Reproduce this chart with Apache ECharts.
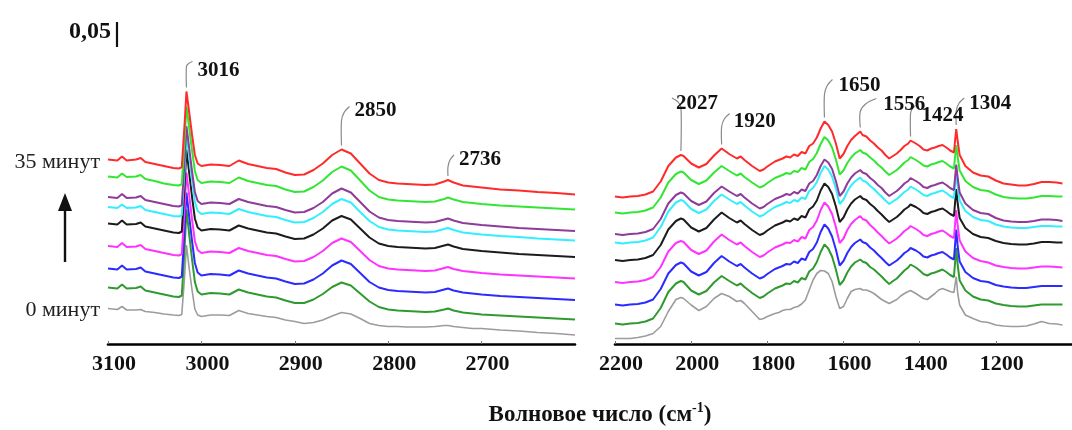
<!DOCTYPE html>
<html>
<head>
<meta charset="utf-8">
<script src="https://cdn.jsdelivr.net/npm/echarts@6/dist/echarts.min.js"></script>
<style>
  html, body { margin: 0; padding: 0; background: #fff; }
  #chart { width: 1072px; height: 430px; }
</style>
</head>
<body>
<div id="chart"></div>
<script>
// Wavenumber grids (cm-1) for the two spectral windows
const wnLeft = [
  3100, 3090, 3085, 3080, 3070, 3065, 3060, 3050, 3040, 3030,
  3024, 3021, 3018, 3016, 3013, 3010, 3007, 3004, 3000,
  2990, 2980, 2970, 2960, 2950, 2940, 2930, 2920, 2910, 2900,
  2890, 2880, 2870, 2860, 2850, 2840, 2830, 2820, 2810, 2800,
  2790, 2780, 2770, 2760, 2750, 2740, 2736, 2730, 2720, 2710,
  2700, 2680, 2660, 2640, 2620, 2600
];
const wnRight = [
  2200, 2180, 2160, 2140, 2120, 2100, 2080, 2060, 2040, 2027,
  2020, 2000, 1980, 1960, 1940, 1920, 1900, 1880, 1870, 1860,
  1840, 1820, 1810, 1800, 1790, 1780, 1770, 1760, 1750, 1740,
  1730, 1720, 1710, 1700, 1690, 1680, 1670, 1660, 1650, 1640,
  1630, 1620, 1610, 1600, 1590, 1580, 1570, 1556, 1550, 1540,
  1530, 1520, 1510, 1500, 1490, 1480, 1470, 1460, 1450, 1440,
  1430, 1424, 1410, 1400, 1390, 1380, 1370, 1360, 1350, 1340,
  1330, 1320, 1310, 1304, 1300, 1295, 1280, 1260, 1240, 1220,
  1200, 1180, 1160, 1140, 1120, 1100, 1080, 1060, 1040, 1025
];

// Vertical stacking offsets (absorbance units), top spectrum (35 min) first
const offsets = [0.290, 0.257, 0.214, 0.196, 0.160, 0.116, 0.072, 0.032, 0.000];

// Absorbance, 3100–2600 cm-1
const redLeft = [
  .079,.077,.085,.077,.079,.082,.074,.070,.066,.062,
  .061,.064,.150,.215,.172,.128,.088,.071,.066,
  .069,.068,.066,.077,.070,.066,.062,.060,.053,.048,
  .049,.058,.071,.088,.099,.091,.071,.051,.038,.033,
  .031,.030,.029,.028,.029,.035,.038,.033,.027,.025,
  .023,.019,.017,.014,.012,.009
];
const greenLeft = [
  .078,.076,.084,.077,.078,.081,.073,.069,.064,.061,
  .060,.063,.152,.218,.174,.130,.089,.071,.065,
  .068,.067,.065,.076,.069,.065,.061,.059,.052,.047,
  .048,.057,.070,.087,.098,.090,.070,.050,.037,.032,
  .030,.029,.028,.027,.028,.033,.036,.032,.027,.025,
  .023,.020,.018,.016,.014,.012
];
const purpleLeft = [
  .080,.078,.086,.078,.079,.082,.074,.070,.066,.062,
  .061,.064,.153,.222,.177,.131,.090,.072,.066,
  .069,.068,.066,.076,.070,.066,.062,.060,.054,.049,
  .050,.058,.070,.087,.097,.089,.070,.051,.039,.034,
  .032,.031,.030,.029,.030,.035,.037,.033,.028,.026,
  .024,.021,.018,.016,.014,.012
];
const cyanLeft = [
  .078,.076,.083,.076,.077,.080,.072,.068,.064,.060,
  .059,.062,.151,.224,.178,.132,.089,.070,.064,
  .067,.066,.064,.074,.068,.064,.060,.058,.052,.047,
  .048,.056,.068,.084,.094,.087,.068,.050,.038,.033,
  .031,.030,.029,.028,.029,.034,.036,.032,.027,.025,
  .023,.020,.018,.015,.013,.011
];
const blackLeft = [
  .081,.079,.087,.079,.080,.083,.075,.071,.067,.063,
  .062,.065,.156,.229,.181,.134,.091,.073,.067,
  .070,.069,.067,.077,.071,.067,.063,.061,.055,.050,
  .051,.059,.071,.087,.096,.089,.071,.053,.041,.036,
  .034,.033,.032,.031,.032,.037,.039,.035,.030,.028,
  .026,.023,.020,.018,.016,.014
];
const magentaLeft = [
  .080,.078,.086,.078,.079,.082,.074,.070,.066,.062,
  .061,.064,.155,.227,.180,.133,.090,.072,.066,
  .069,.068,.066,.076,.070,.066,.062,.060,.054,.049,
  .050,.058,.070,.086,.095,.088,.070,.052,.040,.035,
  .033,.032,.031,.030,.031,.036,.038,.034,.030,.028,
  .026,.023,.021,.019,.017,.015
];
const blueLeft = [
  .079,.077,.085,.077,.078,.081,.073,.069,.065,.061,
  .060,.063,.157,.231,.182,.134,.090,.071,.065,
  .068,.067,.065,.075,.069,.065,.061,.059,.053,.048,
  .049,.057,.069,.085,.095,.088,.070,.052,.041,.036,
  .034,.033,.032,.031,.032,.037,.039,.035,.031,.029,
  .027,.024,.022,.020,.018,.016
];
const darkGreenLeft = [
  .081,.079,.087,.079,.080,.083,.075,.071,.067,.063,
  .062,.065,.160,.237,.186,.137,.092,.073,.067,
  .070,.069,.067,.077,.071,.067,.063,.061,.055,.050,
  .050,.057,.068,.082,.091,.085,.069,.053,.042,.037,
  .035,.034,.033,.032,.033,.037,.039,.035,.031,.029,
  .027,.025,.023,.021,.019,.017
];
const grayLeft = [
  .071,.069,.075,.068,.068,.069,.065,.063,.060,.058,
  .057,.059,.135,.198,.150,.108,.070,.058,.055,
  .058,.058,.057,.067,.061,.058,.055,.053,.048,.045,
  .041,.043,.048,.056,.063,.060,.051,.041,.037,.035,
  .035,.034,.034,.034,.035,.037,.037,.035,.033,.031,
  .031,.028,.026,.023,.021,.018
];

// Absorbance, 2200–1025 cm-1
const redRight = [
  .005,.003,.005,.006,.009,.015,.035,.066,.083,.088,
  .086,.071,.063,.070,.087,.101,.090,.081,.085,.078,
  .066,.056,.059,.065,.070,.075,.078,.081,.085,.083,
  .089,.086,.094,.091,.106,.111,.123,.141,.155,.148,
  .135,.111,.081,.090,.106,.118,.126,.135,.128,.125,
  .117,.111,.103,.097,.088,.081,.086,.091,.098,.106,
  .111,.117,.111,.106,.099,.097,.101,.103,.106,.108,
  .103,.097,.093,.140,.115,.088,.066,.053,.047,.045,
  .037,.031,.029,.027,.027,.030,.034,.034,.033,.031
];
const greenRight = [
  .006,.004,.006,.007,.010,.016,.036,.066,.083,.088,
  .086,.071,.063,.070,.086,.099,.089,.080,.084,.077,
  .066,.056,.059,.065,.070,.075,.078,.081,.085,.083,
  .089,.087,.095,.092,.107,.113,.125,.143,.157,.150,
  .136,.112,.082,.090,.105,.116,.124,.131,.126,.123,
  .116,.110,.102,.096,.088,.081,.086,.091,.098,.106,
  .111,.117,.111,.106,.100,.098,.102,.104,.107,.109,
  .104,.098,.094,.141,.116,.090,.069,.057,.051,.049,
  .042,.037,.035,.034,.034,.036,.039,.039,.038,.038
];
const purpleRight = [
  .006,.004,.006,.007,.010,.016,.036,.067,.084,.089,
  .087,.072,.064,.071,.088,.101,.091,.082,.086,.079,
  .067,.057,.060,.066,.071,.076,.079,.082,.086,.084,
  .090,.087,.095,.092,.107,.112,.124,.142,.155,.149,
  .136,.112,.082,.091,.107,.119,.127,.134,.129,.126,
  .118,.112,.104,.098,.089,.082,.087,.092,.099,.107,
  .112,.118,.112,.107,.100,.098,.102,.104,.107,.109,
  .104,.098,.094,.145,.117,.089,.067,.054,.048,.046,
  .038,.033,.031,.030,.030,.032,.035,.035,.034,.032
];
const cyanRight = [
  .007,.005,.007,.008,.011,.017,.038,.069,.087,.092,
  .090,.074,.066,.073,.090,.103,.093,.084,.088,.081,
  .069,.059,.062,.068,.073,.078,.081,.084,.088,.086,
  .092,.089,.097,.094,.110,.116,.128,.146,.160,.153,
  .139,.115,.084,.093,.109,.121,.129,.137,.131,.128,
  .120,.114,.106,.099,.091,.084,.089,.094,.101,.108,
  .113,.119,.113,.108,.102,.100,.104,.106,.109,.111,
  .106,.100,.096,.147,.119,.091,.070,.058,.052,.050,
  .043,.039,.037,.036,.036,.038,.040,.040,.039,.039
];
const blackRight = [
  .008,.006,.008,.009,.012,.018,.038,.069,.086,.091,
  .089,.073,.065,.072,.089,.103,.092,.083,.087,.080,
  .068,.058,.061,.067,.072,.077,.080,.083,.087,.085,
  .091,.088,.096,.093,.109,.115,.127,.147,.161,.154,
  .140,.115,.084,.093,.109,.121,.129,.136,.131,.128,
  .120,.114,.106,.099,.091,.084,.089,.094,.101,.109,
  .114,.119,.114,.109,.102,.100,.104,.106,.109,.111,
  .106,.100,.096,.150,.120,.092,.072,.060,.054,.052,
  .046,.042,.040,.039,.039,.041,.044,.044,.043,.043
];
const magentaRight = [
  .008,.006,.008,.009,.012,.018,.038,.069,.086,.090,
  .088,.072,.064,.071,.089,.103,.092,.083,.087,.080,
  .068,.058,.061,.067,.072,.077,.080,.083,.087,.086,
  .092,.089,.098,.095,.112,.118,.131,.152,.167,.159,
  .144,.118,.086,.095,.112,.124,.132,.140,.134,.131,
  .122,.115,.107,.100,.092,.085,.090,.095,.102,.110,
  .115,.120,.114,.109,.102,.100,.104,.106,.109,.111,
  .106,.100,.096,.152,.120,.091,.069,.056,.050,.047,
  .041,.038,.036,.035,.035,.037,.039,.039,.038,.037
];
const blueRight = [
  .007,.005,.007,.008,.011,.017,.038,.069,.086,.091,
  .089,.073,.065,.072,.090,.104,.093,.084,.088,.081,
  .069,.059,.062,.068,.073,.078,.081,.084,.088,.087,
  .093,.090,.099,.096,.112,.118,.131,.152,.167,.159,
  .143,.117,.085,.094,.110,.122,.130,.137,.132,.129,
  .121,.115,.107,.100,.092,.085,.090,.095,.102,.110,
  .115,.120,.115,.110,.103,.101,.105,.107,.110,.112,
  .107,.101,.097,.157,.122,.093,.072,.060,.054,.052,
  .046,.043,.041,.040,.040,.042,.044,.044,.044,.044
];
const darkGreenRight = [
  .009,.007,.009,.010,.013,.019,.040,.072,.089,.094,
  .092,.075,.067,.074,.091,.104,.094,.085,.089,.082,
  .070,.060,.063,.069,.074,.079,.082,.085,.089,.088,
  .094,.091,.100,.097,.113,.119,.132,.152,.167,.159,
  .143,.117,.086,.095,.111,.123,.131,.137,.133,.130,
  .122,.117,.110,.103,.095,.088,.094,.099,.107,.115,
  .121,.127,.121,.115,.108,.105,.109,.111,.114,.117,
  .112,.106,.102,.160,.125,.095,.075,.063,.057,.055,
  .049,.046,.044,.043,.043,.045,.047,.047,.047,.047
];
const grayRight = [
  .011,.011,.011,.013,.016,.021,.035,.065,.089,.093,
  .091,.078,.067,.075,.091,.101,.095,.085,.087,.081,
  .065,.049,.051,.055,.058,.061,.063,.067,.069,.069,
  .073,.075,.080,.088,.108,.128,.141,.147,.146,.141,
  .125,.095,.071,.075,.091,.105,.109,.111,.108,.108,
  .105,.101,.095,.089,.085,.081,.085,.089,.096,.101,
  .105,.107,.101,.096,.091,.089,.095,.101,.108,.111,
  .108,.105,.103,.135,.101,.078,.058,.051,.045,.043,
  .038,.036,.035,.035,.036,.040,.045,.041,.040,.038
];

// Band positions marked above the top spectrum
const peakLabels = [3016, 2850, 2736, 2027, 1920, 1650, 1556, 1424, 1304];

// Tick values of the two wavenumber axes
const leftTicks = { min: 2600, max: 3100, step: 100 };
const rightTicks = { min: 1000, max: 2200, step: 200 };

const leftSpectra  = [redLeft, greenLeft, purpleLeft, cyanLeft, blackLeft, magentaLeft, blueLeft, darkGreenLeft, grayLeft];
const rightSpectra = [redRight, greenRight, purpleRight, cyanRight, blackRight, magentaRight, blueRight, darkGreenRight, grayRight];
const colors = ['#ff2b2b', '#33e633', '#8e3b9a', '#33eeff', '#1c1c1c', '#ff33ff', '#2b2bff', '#2f9a2f', '#9c9c9c'];
const widths = [2, 2, 2, 2, 2, 2, 2, 2, 1.6];

const serif = '"Liberation Serif", "Times New Roman", serif';
const chart = echarts.init(document.getElementById('chart'), null, { renderer: 'canvas' });

function wnAxis(grid, t) {
  return {
    gridIndex: grid, type: 'value', inverse: true,
    min: t.min, max: t.max, interval: t.step,
    axisLine: { show: true, lineStyle: { color: '#000', width: 2.6 } },
    axisTick: { show: true, inside: true, length: 3, lineStyle: { color: '#777', width: 1 } },
    splitLine: { show: false },
    axisLabel: {
      showMinLabel: false, margin: 9, padding: [0, 0, 0, 12],
      formatter: v => String(v),
      fontFamily: serif, fontWeight: 'bold', fontSize: 22, color: '#111'
    }
  };
}

const series = [];
for (let i = leftSpectra.length - 1; i >= 0; i--) {
  [[wnLeft, leftSpectra[i], 0], [wnRight, rightSpectra[i], 1]].forEach(([wn, spec, g]) => {
    series.push({
      type: 'line', xAxisIndex: g, yAxisIndex: g, showSymbol: false, symbol: 'none',
      silent: true, z: 2 + (leftSpectra.length - i),
      lineStyle: { color: colors[i], width: widths[i] },
      data: wn.map((w, k) => [w, +(spec[k] + offsets[i]).toFixed(4)])
    });
  });
}

chart.setOption({
  animation: false,
  grid: [
    { left: 108, top: 44, width: 467, height: 300 },
    { left: 615, top: 44, width: 466, height: 300 }
  ],
  xAxis: [wnAxis(0, leftTicks), wnAxis(1, rightTicks)],
  yAxis: [
    { gridIndex: 0, type: 'value', min: 0, max: 0.6, show: false },
    { gridIndex: 1, type: 'value', min: 0, max: 0.6, show: false }
  ],
  series: series
});

// Annotations: band labels with leader lines, time labels, scale bar, axis title
const px = (g, x, y) => chart.convertToPixel({ gridIndex: g }, [x, y]);
// leader layout per band: [rise, bendDx, bendDy, textDx, textDy]
const leaderLayout = {
  3016: [25, 6, 5, 5, 9],   2850: [29, 8, 14, 5, 4],  2736: [13, 6, 12, 5, 5],
  2027: [48, -9, 9, 4, 6],  1920: [22, 8, 13, 4, 8],  1650: [27, 8, 15, 6, 6],
  1556: [20, 16, 13, 7, 6], 1424: [27, 5, 8, 6, 10],  1304: [18, 8, 13, 5, 6]
};
const graphics = [];
peakLabels.forEach(wn => {
  const g = wn > 2400 ? 0 : 1;
  const wns = g === 0 ? wnLeft : wnRight;
  const spec = g === 0 ? redLeft : redRight;
  const p = px(g, wn, spec[wns.indexOf(wn)] + offsets[0]);
  const [rise, dx, dy, tx, ty] = leaderLayout[wn];
  const top = p[1] - rise;
  graphics.push({
    type: 'polyline', silent: true, z: 50,
    shape: { points: [[p[0], p[1] - 4], [p[0], top], [p[0] + dx * 0.35, top - dy * 0.6], [p[0] + dx, top - dy]], smooth: 0.3 },
    style: { stroke: '#8a8a8a', lineWidth: 1.2, fill: null }
  });
  graphics.push({
    type: 'text', silent: true, z: 51,
    style: {
      text: String(wn), x: p[0] + dx + tx, y: top - dy + ty,
      font: 'bold 21px ' + serif, fill: '#111', textAlign: 'left', textVerticalAlign: 'middle'
    }
  });
});

const topStart = px(0, wnLeft[0], redLeft[0] + offsets[0]);
const botStart = px(0, wnLeft[0], grayLeft[0] + offsets[8]);
graphics.push({
  type: 'text', silent: true,
  style: { text: '35 минут', x: topStart[0] - 8, y: topStart[1] + 3, font: '22px ' + serif, fill: '#222', textAlign: 'right', textVerticalAlign: 'middle' }
});
graphics.push({
  type: 'text', silent: true,
  style: { text: '0 минут', x: botStart[0] - 8, y: botStart[1] + 2, font: '22px ' + serif, fill: '#222', textAlign: 'right', textVerticalAlign: 'middle' }
});

// time arrow
graphics.push({ type: 'line', silent: true, shape: { x1: 65, y1: 262, x2: 65, y2: 208 }, style: { stroke: '#111', lineWidth: 2.4 } });
graphics.push({ type: 'polygon', silent: true, shape: { points: [[58, 211], [72, 211], [65, 193]] }, style: { fill: '#111' } });

// 0.05 absorbance scale bar
const barLen = px(0, 3100, 0)[1] - px(0, 3100, 0.05)[1];
graphics.push({ type: 'line', silent: true, shape: { x1: 117, y1: 47, x2: 117, y2: 47 - barLen }, style: { stroke: '#111', lineWidth: 2.2 } });
graphics.push({
  type: 'text', silent: true,
  style: { text: '0,05', x: 111, y: 32, font: 'bold 24px ' + serif, fill: '#111', textAlign: 'right', textVerticalAlign: 'middle' }
});

// axis title
graphics.push({
  type: 'text', silent: true,
  style: {
    text: '{b|Волновое число (см}{s|-1}{b|)}', x: 600, y: 414, textAlign: 'center', textVerticalAlign: 'middle',
    rich: {
      b: { fontFamily: serif, fontWeight: 'bold', fontSize: 23, fill: '#111', lineHeight: 26, verticalAlign: 'bottom' },
      s: { fontFamily: serif, fontWeight: 'bold', fontSize: 14, fill: '#111', lineHeight: 26, verticalAlign: 'top' }
    }
  }
});

chart.setOption({ graphic: graphics });
</script>
</body>
</html>
